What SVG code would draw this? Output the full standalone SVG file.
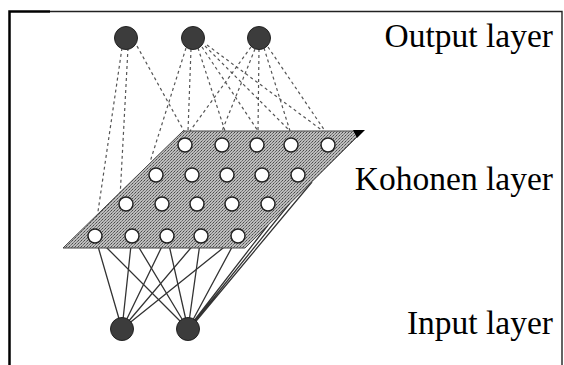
<svg xmlns="http://www.w3.org/2000/svg" width="564" height="365" viewBox="0 0 564 365">
<style>
.lbl{font-family:"Liberation Serif","Times New Roman",serif;font-size:33.5px;fill:#000;text-anchor:end}
.dash{stroke:#555;stroke-width:1.2;stroke-dasharray:3 3;fill:none}
.solid{stroke:#333;stroke-width:1.3;fill:none}
.big{fill:#3c3c3c;stroke:#222;stroke-width:1}
.koh{fill:#fff;stroke:#222;stroke-width:1.5}
</style>
<defs>
<pattern id="hatch" width="3" height="3" patternUnits="userSpaceOnUse">
<rect width="3" height="3" fill="#bdbdbd"/>
<rect width="1" height="1" fill="#4a4a4a"/>
<rect x="2" y="1" width="1" height="1" fill="#6a6a6a"/>
<rect x="1" y="2" width="1" height="1" fill="#808080"/>
</pattern>
</defs>
<rect width="564" height="365" fill="#fff"/>
<g id="frame">
<path d="M9.5,366 V11.5 H50" stroke="#000" stroke-width="2.5" fill="none"/>
<path d="M50,11.5 H562 V366" stroke="#222" stroke-width="1.4" fill="none"/>
</g>
<g id="connectors">
<path class="dash" d="M122,48 L95,232 M128,48 L120,198 M137,46 L184,131"/>
<path class="dash" d="M186,48 L150,162 M191,49 L188,131 M198,48 L225,131 M202,47 L258,131 M205,46 L290,131 M207,45 L323,131"/>
<path class="dash" d="M251,47 L190,131 M255,49 L222,131 M259,49 L258,131 M264,48 L290,131 M268,47 L325,131"/>
<path class="solid" d="M122,329 L95,236 M122,329 L132,236 M122,329 L167,236 M122,329 L201,236 M122,329 L238,236"/>
<path class="solid" d="M188,329 L95,236 M188,329 L132,236 M188,329 L167,236 M188,329 L201,236 M188,329 L238,236"/>
<path class="solid" stroke-width="1.7" d="M190,326 L268,225 M191,326 L290,203 M192,326 L312,182"/>
</g>
<g id="kohonen-layer">
<polygon points="183,131 363,131 245,248 63,248" fill="url(#hatch)" stroke="#444" stroke-width="1"/>
<polygon points="353,130 365,130 357,138" fill="#000"/>
<circle class="koh" cx="185" cy="145" r="7"/>
<circle class="koh" cx="222" cy="145" r="7"/>
<circle class="koh" cx="257" cy="145" r="7"/>
<circle class="koh" cx="291" cy="145" r="7"/>
<circle class="koh" cx="328" cy="145" r="7"/>
<circle class="koh" cx="156" cy="175" r="7"/>
<circle class="koh" cx="192" cy="175" r="7"/>
<circle class="koh" cx="227" cy="175" r="7"/>
<circle class="koh" cx="262" cy="175" r="7"/>
<circle class="koh" cx="298" cy="175" r="7"/>
<circle class="koh" cx="126" cy="204" r="7"/>
<circle class="koh" cx="162" cy="204" r="7"/>
<circle class="koh" cx="197" cy="204" r="7"/>
<circle class="koh" cx="232" cy="204" r="7"/>
<circle class="koh" cx="268" cy="204" r="7"/>
<circle class="koh" cx="95" cy="236" r="7"/>
<circle class="koh" cx="132" cy="236" r="7"/>
<circle class="koh" cx="167" cy="236" r="7"/>
<circle class="koh" cx="201" cy="236" r="7"/>
<circle class="koh" cx="238" cy="236" r="7"/>
</g>
<g id="output-1"><circle class="big" cx="126" cy="38" r="11.5"/></g>
<g id="output-2"><circle class="big" cx="193" cy="38" r="11.5"/></g>
<g id="output-3"><circle class="big" cx="259" cy="38" r="11.5"/></g>
<g id="input-1"><circle class="big" cx="122" cy="329" r="11.5"/></g>
<g id="input-2"><circle class="big" cx="188" cy="329" r="11.5"/></g>
<g id="labels">
<text class="lbl" x="553" y="47">Output layer</text>
<text class="lbl" x="553" y="190">Kohonen layer</text>
<text class="lbl" x="553" y="334">Input layer</text>
</g>
</svg>
